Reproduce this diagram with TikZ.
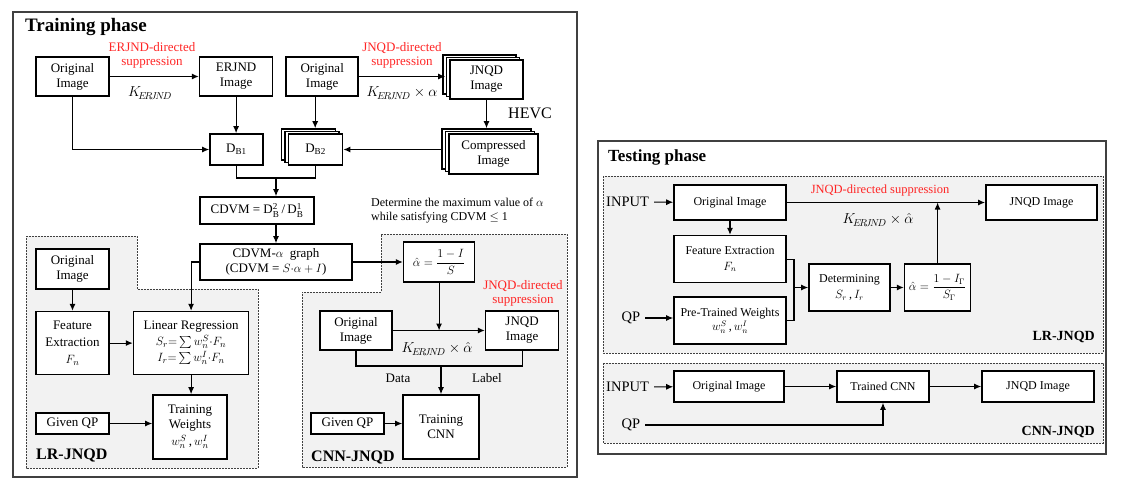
\documentclass[tikz,border=0pt]{standalone}
\usepackage{amsmath}
\usepackage{fontspec}
\setmainfont{Liberation Serif}
\usetikzlibrary{arrows.meta,positioning,calc,shadows}
\definecolor{Frame}{HTML}{404040}
\definecolor{Zone}{HTML}{F2F2F2}
\definecolor{Note}{HTML}{FF2626}
\tikzset{
  arr/.style={-{Latex[length=7pt,width=6pt]},line width=1.1pt},
  ln/.style={line width=1.1pt},
  imgbox/.style={draw,fill=white,line width=1.6pt,align=center,inner sep=1pt,font=\fontsize{13}{15}\selectfont},
  stackbox/.style={imgbox,double copy shadow={shadow xshift=-3.5pt,shadow yshift=2.5pt,fill=white,draw=black,line width=1.3pt}},
  tbox/.style={imgbox,font=\fontsize{12}{14}\selectfont},
  zonebox/.style={draw=Frame,fill=Zone,line width=0.9pt,dash pattern=on 2pt off 1pt},
  phasebox/.style={draw=Frame,line width=1.5pt},
  note/.style={text=Note,align=center,inner sep=0pt,font=\fontsize{13}{14}\selectfont},
  lbl/.style={inner sep=0pt,align=center,font=\fontsize{13}{15}\selectfont},
  klbl/.style={lbl,font=\fontsize{14}{15}\selectfont},
  phasetitle/.style={anchor=west,inner sep=0pt,font=\bfseries\fontsize{19}{20}\selectfont},
  tag/.style={inner sep=0pt,font=\bfseries\fontsize{16}{17}\selectfont}
}
\newcommand{\kerjnd}{K_{\!E\!R\!J\!N\!D}}

\begin{document}
\begin{tikzpicture}[x=1pt,y=-1pt]
  \useasboundingbox (0,0) rectangle (1122,485);
  % training phase
  \draw[phasebox] (13,12) rectangle (577,477);
  \node[phasetitle] at (25,27) {Training phase};
  \draw[zonebox] (26,236) -- (137,236) -- (137,289) -- (258,289) -- (258,468) -- (26,468) -- cycle;
  \draw[zonebox] (381,234) -- (567,234) -- (567,467) -- (302,467) -- (302,292) -- (381,292) -- cycle;
  \node[tag,anchor=west] at (36,455) {LR-JNQD};
  \node[tag,anchor=west] at (311,457) {CNN-JNQD};

  \node[imgbox,minimum width=73pt,minimum height=39pt] (oa) at (72.5,76.5) {Original\\Image};
  \node[imgbox,right=89pt of oa,minimum width=73pt,minimum height=39pt] (ea) {ERJND\\Image};
  \node[imgbox,right=12pt of ea,minimum width=72pt,minimum height=39pt] (ob) {Original\\Image};
  \node[stackbox,minimum width=73pt,minimum height=39pt] (ja) at (486.5,79.5) {JNQD\\Image};
  \node[imgbox,minimum width=53pt,minimum height=31pt] (d1) at (236.5,149.5) {D\textsubscript{B1}};
  \node[stackbox,right=24pt of d1,minimum width=54pt,minimum height=31pt] (d2) {D\textsubscript{B2}};
  \node[stackbox,minimum width=89pt,minimum height=40pt] (ca) at (493.5,154) {Compressed\\Image};
  \node[imgbox,minimum width=114pt,minimum height=27pt] (cv) at (257,210.5) {CDVM = D$^{\text{2}}_{\text{B}}$\,/\,D$^{\text{1}}_{\text{B}}$};
  \node[imgbox,minimum width=152pt,minimum height=36pt] (gr) at (276,262) {CDVM-$\alpha$\ \ graph\\(CDVM = $S{\cdot}\alpha+I$)};
  \node[imgbox,right=50pt of gr,minimum width=71pt,minimum height=40pt] (ah) {$\hat{\alpha}=\dfrac{1-I}{S}$};

  \draw[arr] (oa) -- (ea);
  \node[note] at (152,55) {ERJND-directed\\suppression};
  \node[klbl] at (150,93) {$\kerjnd$};
  \draw[arr] (oa.south) |- (d1.west);
  \draw[arr] (ea.south) -- (ea.south |- d1.north);
  \draw[arr,shorten >=4pt] (ob) -- (ob -| ja.west);
  \node[note] at (402,55) {JNQD-directed\\suppression};
  \node[klbl] at (402,93) {$\kerjnd\times\alpha$};
  \draw[arr,shorten >=5pt] (ja.south) -- (ja.south |- ca.north);
  \node[lbl,font=\fontsize{16}{17}\selectfont] at (530,113) {HEVC};
  \draw[arr,shorten <=7pt] (ca.west |- d2.east) -- (d2.east);
  \draw[arr,shorten >=5pt] ([xshift=-7pt]ob.south) -- ([xshift=-7pt]ob.south |- d2.north);
  \coordinate (m) at (276,178);
  \draw[ln] (d1.south) |- (m) -| (d2.south);
  \draw[arr] (m) -- (m |- cv.north);
  \draw[arr] (cv.south -| gr.north) -- (gr.north);
  \node[lbl,anchor=west,align=left,font=\fontsize{12}{14}\selectfont] at (371,211) {Determine the maximum value of $\alpha$\\while satisfying CDVM $\le$ 1};
  \draw[arr] (gr.east) -- (gr.east -| ah.west);

  % LR-JNQD (training)
  \node[imgbox,minimum width=73pt,minimum height=40pt] (oc) at (72.5,269) {Original\\Image};
  \node[imgbox,below=21pt of oc,minimum width=73pt,minimum height=63pt] (fe) {Feature\\[2pt]Extraction\\[2pt]$F_n$};
  \node[imgbox,right=23pt of fe,minimum width=115pt,minimum height=63pt] (lr) {Linear Regression\\[1pt]$S_r{=}\sum w^{S}_{n}{\cdot}F_n$\\[1pt]$I_r{=}\sum w^{I}_{n}{\cdot}F_n$};
  \node[imgbox,minimum width=74pt,minimum height=64pt] (tw) at (190,427) {Training\\Weights\\[2pt]$w^{S}_{n}$\,,\,$w^{I}_{n}$};
  \node[imgbox,minimum width=73pt,minimum height=21pt] (qa) at (72.5,423.5) {Given QP};
  \draw[arr] (gr.west) -| (lr.north);
  \draw[arr] (oc) -- (fe);
  \draw[arr] (fe) -- (lr);
  \draw[arr] (lr.south) -- (lr.south |- tw.north);
  \draw[arr] (qa.east) -- (qa.east -| tw.west);

  % CNN-JNQD (training)
  \node[imgbox,minimum width=72pt,minimum height=39pt] (od) at (356,330.5) {Original\\Image};
  \node[imgbox,right=92pt of od,minimum width=73pt,minimum height=39pt] (jb) {JNQD\\Image};
  \node[imgbox,minimum width=76pt,minimum height=64pt] (tc) at (441,427) {Training\\CNN};
  \node[imgbox,minimum width=73pt,minimum height=21pt] (qb) at (347.5,423.5) {Given QP};
  \draw[arr] (ah.south) -- (ah.south |- od.east);
  \draw[arr] (od) -- (jb);
  \node[note] at (523,293) {JNQD-directed\\suppression};
  \node[klbl] at (437,349) {$\kerjnd\times\hat{\alpha}$};
  \coordinate (dl) at (441,366);
  \draw[ln] (od.south) |- (dl) -| (jb.south);
  \draw[arr] (dl) -- (tc.north);
  \node[lbl] at (398,378) {Data};
  \node[lbl] at (487,378) {Label};
  \draw[arr] (qb.east) -- (qb.east -| tc.west);

  % testing phase
  \draw[phasebox] (598,141) rectangle (1106,454);
  \node[phasetitle,font=\bfseries\fontsize{17}{18}\selectfont] at (608,157) {Testing phase};
  \draw[zonebox] (603,176) rectangle (1103,353);
  \draw[zonebox] (603,363) rectangle (1103,443);
  \node[tag,anchor=east,font=\bfseries\fontsize{14}{15}\selectfont] at (1095,337) {LR-JNQD};
  \node[tag,anchor=east,font=\bfseries\fontsize{14}{15}\selectfont] at (1095,432) {CNN-JNQD};

  % LR-JNQD (testing)
  \node[lbl,anchor=west,font=\fontsize{14.5}{16}\selectfont] (ti) at (606,202) {INPUT};
  \node[lbl,font=\fontsize{14.5}{16}\selectfont] (tq) at (631,318) {QP};
  \node[tbox,minimum width=112pt,minimum height=35pt] (to) at (730,202.5) {Original Image};
  \node[tbox,minimum width=111pt,minimum height=35pt] (tj) at (1041.5,202.5) {JNQD Image};
  \node[tbox,below=14pt of to,minimum width=112pt,minimum height=47pt] (tf) {Feature Extraction\\[2pt]$F_n$};
  \node[tbox,below=13pt of tf,minimum width=112pt,minimum height=47pt] (tp) {Pre-Trained Weights\\$w^{S}_{n}$\,,\,$w^{I}_{n}$};
  \node[tbox,minimum width=81pt,minimum height=47pt] (td) at (849.5,287.5) {Determining\\[2pt]$S_r$\,,\,$I_r$};
  \node[tbox,right=13pt of td,minimum width=66pt,minimum height=47pt] (ta) {$\hat{\alpha}=\dfrac{1-I_\Gamma}{S_\Gamma}$};
  \draw[arr,shorten <=5pt] (ti) -- (to);
  \draw[arr,shorten <=5pt] (tq.east) -- (tq.east -| tp.west);
  \draw[arr] (to) -- (tf);
  \coordinate (tb) at (794,287.5);
  \draw[ln] (tf.east) -| (tb) |- (tp.east);
  \draw[arr] (tb) -- (td);
  \draw[arr] (td) -- (ta);
  \draw[arr,line width=1.5pt] (to) -- (tj);
  \draw[arr] (ta.north) -- (ta.north |- to.east);
  \node[note,font=\fontsize{12.5}{14}\selectfont] at (880,190) {JNQD-directed suppression};
  \node[klbl] at (878,220) {$\kerjnd\times\hat{\alpha}$};

  % CNN-JNQD (testing)
  \node[lbl,anchor=west,font=\fontsize{14.5}{16}\selectfont] (ti2) at (606,387) {INPUT};
  \node[lbl,font=\fontsize{14.5}{16}\selectfont] (tq2) at (631,425) {QP};
  \node[tbox,minimum width=110pt,minimum height=31pt] (to2) at (729,386.5) {Original Image};
  \node[tbox,minimum width=92pt,minimum height=31pt] (tc2) at (883,386.5) {Trained CNN};
  \node[tbox,minimum width=112pt,minimum height=31pt] (tj2) at (1038,386.5) {JNQD Image};
  \draw[arr,shorten <=5pt] (ti2) -- (to2);
  \draw[arr] (to2) -- (tc2);
  \draw[arr] (tc2) -- (tj2);
  \draw[arr,shorten <=5pt] (tq2.east) -| (tc2.south);
\end{tikzpicture}
\end{document}
